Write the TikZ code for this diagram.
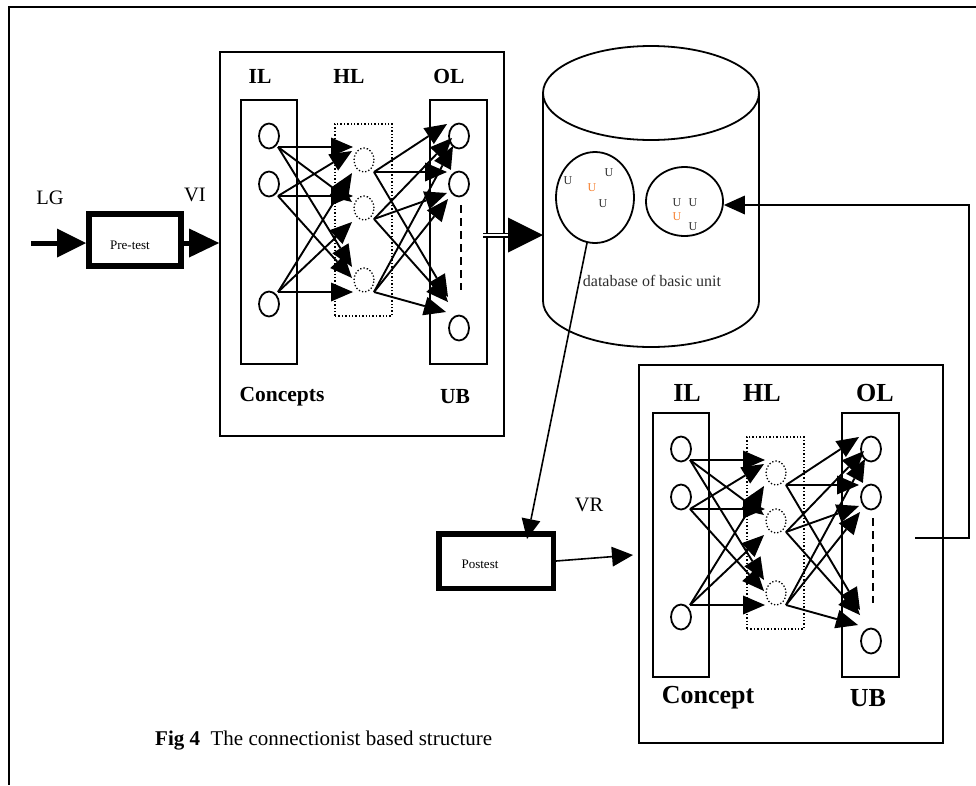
\documentclass[tikz,border=0pt]{standalone}
\usepackage{fontspec}
\setmainfont{Liberation Serif}
\usetikzlibrary{arrows.meta,shapes.geometric}
\definecolor{uorange}{RGB}{245,128,48}
\definecolor{ugray}{RGB}{45,45,45}
\newcommand\fsz[1]{\fontsize{#1}{#1}\selectfont}
\tikzset{
  layerbox/.style={draw, line width=2pt, inner sep=0pt},
  hidbox/.style={draw, dotted, line width=1.4pt, inner sep=0pt},
  inode/.style={ellipse, draw, line width=1.8pt, minimum width=20pt, minimum height=25pt, inner sep=0pt},
  hnode/.style={ellipse, draw, dotted, line width=1.3pt, minimum width=20pt, minimum height=24pt, inner sep=0pt},
  conn/.style={line width=1.9pt, -{Triangle[length=22pt,width=19pt,line width=0pt]}},
  panel/.style={draw, line width=1.8pt, inner sep=0pt},
  txt/.style={inner sep=0pt},
  lab1/.style={txt, font=\fsz{21.5}\bfseries},
  lab2/.style={txt, font=\fsz{26}\bfseries},
  ulet/.style={txt, font=\fsz{12}, text=ugray},
  net/.pic={
    \node[layerbox, minimum width=56pt, minimum height=264pt] (-il) at (28,132) {};
    \node[hidbox, minimum width=57pt, minimum height=192pt] (-hl) at (122.5,120) {};
    \node[layerbox, minimum width=57pt, minimum height=264pt] (-ol) at (217.5,132) {};
    \node[inode] (-i1) at (28,36) {};
    \node[inode] (-i2) at (28,84) {};
    \node[inode] (-i3) at (28,204) {};
    \node[hnode] (-h1) at (123,60) {};
    \node[hnode] (-h2) at (123,108) {};
    \node[hnode] (-h3) at (123,180) {};
    \node[inode] (-o1) at (218,36) {};
    \node[inode] (-o2) at (218,84) {};
    \node[inode] (-o3) at (218,228) {};
    \coordinate (-d1) at (220,105);
    \coordinate (-d2) at (220,190);
    \draw[line width=1.5pt, dash pattern=on 8pt off 5pt] (-d1) -- (-d2);
    % out points
    \coordinate (-a1) at (37,47);
    \coordinate (-a2) at (37,96);
    \coordinate (-a3) at (37,192);
    \coordinate (-b1) at (133,72);
    \coordinate (-b2) at (133,119);
    \coordinate (-b3) at (133,192);
    % targets on hidden layer
    \coordinate (-t11) at (112,47);
    \coordinate (-t21) at (111,51);
    \coordinate (-t31) at (111,73);
    \coordinate (-t12) at (111,102);
    \coordinate (-t22) at (112,96);
    \coordinate (-t32) at (111,122);
    \coordinate (-t13) at (111,167);
    \coordinate (-t23) at (111,178);
    \coordinate (-t33) at (112,192);
    % targets on output layer
    \coordinate (-u11) at (206,24);
    \coordinate (-u21) at (211,38);
    \coordinate (-u31) at (212,46);
    \coordinate (-u12) at (206,72);
    \coordinate (-u22) at (206,93);
    \coordinate (-u32) at (207,99);
    \coordinate (-u13) at (207,197);
    \coordinate (-u23) at (207,202);
    \coordinate (-u33) at (205,212);
    \draw[conn] (-a1) -- (-t11);
    \draw[conn] (-a2) -- (-t21);
    \draw[conn] (-a3) -- (-t31);
    \draw[conn] (-a1) -- (-t12);
    \draw[conn] (-a2) -- (-t22);
    \draw[conn] (-a3) -- (-t32);
    \draw[conn] (-a1) -- (-t13);
    \draw[conn] (-a2) -- (-t23);
    \draw[conn] (-a3) -- (-t33);
    \draw[conn] (-b1) -- (-u11);
    \draw[conn] (-b2) -- (-u21);
    \draw[conn] (-b3) -- (-u31);
    \draw[conn] (-b1) -- (-u12);
    \draw[conn] (-b2) -- (-u22);
    \draw[conn] (-b3) -- (-u32);
    \draw[conn] (-b1) -- (-u13);
    \draw[conn] (-b2) -- (-u23);
    \draw[conn] (-b3) -- (-u33);
  }
}
\begin{document}
\begin{tikzpicture}[x=1pt, y=-1pt]
\useasboundingbox (0,0) rectangle (976,785);
% outer frame (cropped)
\coordinate (fr1) at (976,7);
\coordinate (fr2) at (9,7);
\coordinate (fr3) at (9,785);
\draw[line width=1.8pt] (fr1) -- (fr2) -- (fr3);

% panel 1
\node[panel, minimum width=284pt, minimum height=384pt] (p1) at (362,244) {};
\pic (A) at (241,100) {net};
\node[lab1] (A-lil) at (260,76) {IL};
\node[lab1] (A-lhl) at (349,76) {HL};
\node[lab1] (A-lol) at (449,76) {OL};
\node[lab1] (A-lc) at (282,397) {Concepts};
\node[lab1] (A-lub) at (455,397) {UB};

% panel 2
\node[panel, minimum width=304pt, minimum height=378pt] (p2) at (791,554) {};
\pic (B) at (653,413) {net};
\node[lab2] (B-lil) at (687,393) {IL};
\node[lab2] (B-lhl) at (762,393) {HL};
\node[lab2] (B-lol) at (875,393) {OL};
\node[lab2] (B-lc) at (708,698) {Concept};
\node[lab2] (B-lub) at (868,698) {UB};

% pre-test
\node[draw, line width=6pt, minimum width=92pt, minimum height=52pt, inner sep=0pt] (pre) at (135,240) {};
\node[txt, font=\fsz{13}] (pretxt) at (130,245) {Pre-test};
\node[txt, font=\fsz{20.5}] (lg) at (50,198) {LG};
\node[txt, font=\fsz{20.5}] (vi) at (195,195) {VI};
\coordinate (lg0) at (31,243);
\draw[line width=5pt, -{Triangle[length=29pt,width=29pt,line width=0pt]}] (lg0) -- (lg0 -| pre.west);
\draw[line width=5pt, -{Triangle[length=30pt,width=29pt,line width=0pt]}] (pre.east |- lg0) -- (p1.west |- lg0);

% database cylinder
\node[ellipse, draw, line width=1.8pt, minimum width=216pt, minimum height=94pt, inner sep=0pt] (dbtop) at (651,93) {};
\draw[line width=1.8pt] (543,93) -- (543,301) .. controls (543,326.4) and (591.4,347) .. (651,347) .. controls (710.6,347) and (759,326.4) .. (759,301) -- (759,93);
\node[ellipse, draw, line width=1.8pt, minimum width=78pt, minimum height=91pt, inner sep=0pt] (dbl) at (595,197.5) {};
\node[ellipse, draw, line width=1.8pt, minimum width=77pt, minimum height=69pt, inner sep=0pt] (dbr) at (684.5,201.5) {};
\node[ulet] (u1) at (568,181) {U};
\node[ulet] (u2) at (609,173) {U};
\node[ulet, text=uorange] (u3) at (592,188) {U};
\node[ulet] (u4) at (603,204) {U};
\node[ulet] (u5) at (677,203) {U};
\node[ulet] (u6) at (693,203) {U};
\node[ulet, text=uorange] (u7) at (677,217) {U};
\node[ulet] (u8) at (693,227) {U};
\node[txt, font=\fsz{16}, text=ugray] (dbtxt) at (652,281) {database of basic unit};

% double arrow panel 1 -> database
\coordinate (dbs) at (483,235);
\coordinate (dbh) at (510,235);
\coordinate (dbw) at (543,235);
\draw[double, double distance=2.6pt, line width=1.2pt] (dbs) -- (dbh);
\draw[line width=1pt, -{Triangle[length=35pt,width=35pt,line width=0pt]}] (dbh) -- (dbw);

% database -> postest
\node[draw, line width=5.5pt, minimum width=114.5pt, minimum height=54.5pt, inner sep=0pt] (post) at (496,561) {};
\node[txt, font=\fsz{13}] (posttxt) at (480,564) {Postest};
\coordinate (posttip) at (527,539);
\draw[line width=1.6pt, -{Triangle[length=20pt,width=19pt,line width=0pt]}] (dbl.260) -- (posttip);
\node[txt, font=\fsz{20.5}] (vr) at (589,505) {VR};
\coordinate (p2in) at (633,555);
\draw[line width=1.6pt, -{Triangle[length=21pt,width=20pt,line width=0pt]}] (post.east) -- (p2in);

% feedback
\coordinate (fb0) at (915,538);
\coordinate (fbc) at (969,205);
\draw[line width=1.8pt, -{Triangle[length=21pt,width=19pt,line width=0pt]}] (fb0) -| (fbc) -- (dbr.east |- fbc);

% caption
\node[txt, anchor=west, font=\fsz{21}] (cap) at (155,741) {\textbf{Fig 4}\enspace The connectionist based structure};
\end{tikzpicture}
\end{document}
